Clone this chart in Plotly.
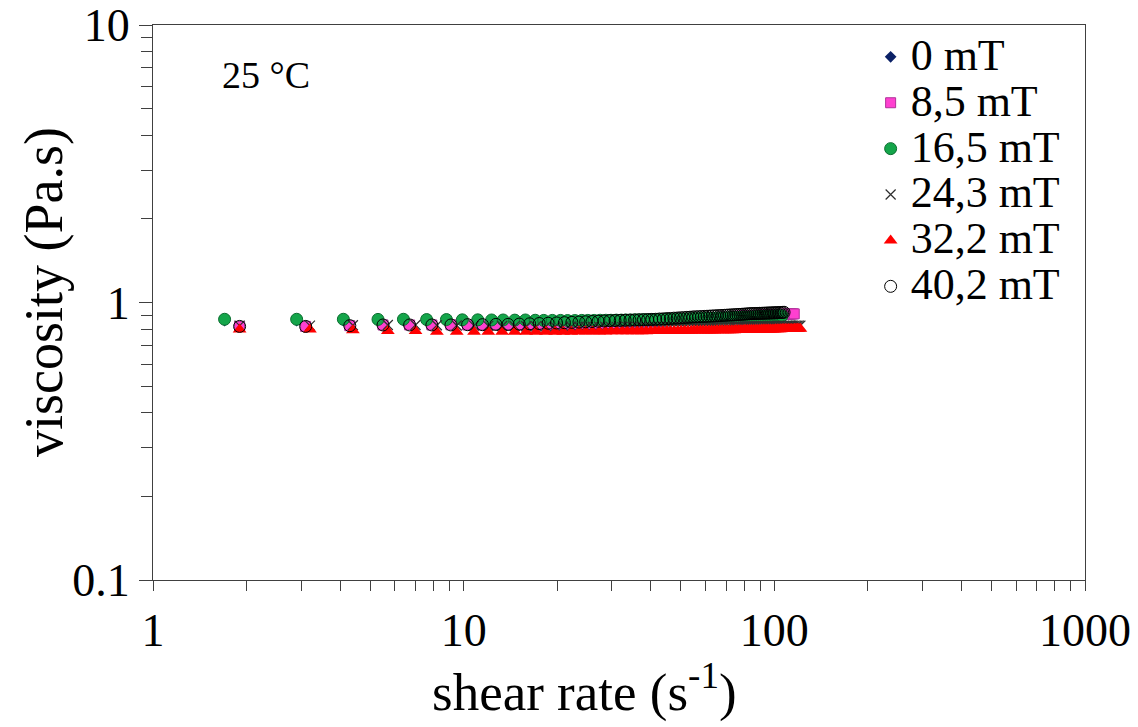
import plotly.graph_objects as go

# shear rate ramps (s-1)
rate_a = [1.7, 2.9, 4.1, 5.3, 6.4, 7.6, 8.8, 9.9, 11.1, 12.3,
          13.4, 14.6, 15.8, 17.0, 18.1, 19.3, 20.5, 21.6, 22.8, 24.0,
          25.1, 26.3, 27.5, 28.7, 29.8, 31.0, 32.2, 33.3, 34.5, 35.7,
          36.8, 38.0, 39.2, 40.4, 41.5, 42.7, 43.9, 45.0, 46.2, 47.4,
          48.5, 49.7, 50.9, 52.1, 53.2, 54.4, 55.6, 56.7, 57.9, 59.1,
          60.2, 61.4, 62.6, 63.8, 64.9, 66.1, 67.3, 68.4, 69.6, 70.8,
          71.9, 73.1, 74.3, 75.5, 76.6, 77.8, 79.0, 80.1, 81.3, 82.5,
          83.6, 84.8, 86.0, 87.2, 88.3, 89.5, 90.7, 91.8, 93.0, 94.2,
          95.3, 96.5, 97.7, 98.9, 100.0, 101.2, 102.4, 103.5, 104.7, 105.9]

rate_b = [1.9, 3.1, 4.3, 5.5, 6.7, 7.9, 9.1, 10.3, 11.5, 12.7,
          13.9, 15.1, 16.3, 17.5, 18.7, 19.9, 21.1, 22.3, 23.5, 24.7,
          25.9, 27.1, 28.3, 29.5, 30.7, 31.9, 33.1, 34.3, 35.5, 36.7,
          37.9, 39.1, 40.3, 41.5, 42.7, 43.9, 45.1, 46.3, 47.5, 48.7,
          49.9, 51.1, 52.3, 53.5, 54.7, 55.9, 57.1, 58.3, 59.5, 60.7,
          61.9, 63.1, 64.3, 65.5, 66.7, 67.9, 69.1, 70.3, 71.5, 72.7,
          73.9, 75.1, 76.3, 77.5, 78.7, 79.9, 81.1, 82.3, 83.5, 84.7,
          85.9, 87.1, 88.3, 89.5, 90.7, 91.9, 93.1, 94.3, 95.5, 96.7,
          97.9, 99.1, 100.3, 101.5, 102.7, 103.9, 105.1, 106.3, 107.5, 108.7,
          109.9, 111.1, 112.3, 113.5, 114.7, 115.9]

rate_c = [1.9, 3.2, 4.4, 5.7, 7.0, 8.2, 9.5, 10.8, 12.0, 13.3,
          14.6, 15.9, 17.1, 18.4, 19.7, 20.9, 22.2, 23.5, 24.7, 26.0,
          27.3, 28.6, 29.8, 31.1, 32.4, 33.6, 34.9, 36.2, 37.4, 38.7,
          40.0, 41.3, 42.5, 43.8, 45.1, 46.3, 47.6, 48.9, 50.1, 51.4,
          52.7, 54.0, 55.2, 56.5, 57.8, 59.0, 60.3, 61.6, 62.8, 64.1,
          65.4, 66.7, 67.9, 69.2, 70.5, 71.7, 73.0, 74.3, 75.5, 76.8,
          78.1, 79.4, 80.6, 81.9, 83.2, 84.4, 85.7, 87.0, 88.2, 89.5,
          90.8, 92.1, 93.3, 94.6, 95.9, 97.1, 98.4, 99.7, 100.9, 102.2,
          103.5, 104.8, 106.0, 107.3, 108.6, 109.8, 111.1, 112.4, 113.6, 114.9,
          116.2, 117.5, 118.7, 120.0, 121.3]

# viscosity (Pa.s)
visc_0 = [0.86, 0.86, 0.86, 0.862, 0.86, 0.861, 0.86, 0.86, 0.859, 0.86,
          0.86, 0.858, 0.858, 0.857, 0.857, 0.857, 0.858, 0.858, 0.858, 0.859,
          0.859, 0.86, 0.86, 0.861, 0.861, 0.862, 0.862, 0.863, 0.863, 0.864,
          0.864, 0.865, 0.865, 0.866, 0.866, 0.867, 0.867, 0.868, 0.868, 0.869,
          0.869, 0.87, 0.87, 0.871, 0.871, 0.872, 0.872, 0.873, 0.873, 0.874,
          0.874, 0.875, 0.875, 0.876, 0.876, 0.877, 0.877, 0.878, 0.878, 0.879,
          0.879, 0.88, 0.88, 0.881, 0.881, 0.882, 0.882, 0.883, 0.883, 0.884,
          0.884, 0.885, 0.885, 0.886, 0.886, 0.887, 0.887, 0.888, 0.888, 0.889,
          0.889, 0.89, 0.89, 0.891, 0.891, 0.892, 0.892, 0.893, 0.893, 0.894]

visc_8_5 = [0.82, 0.82, 0.825, 0.83, 0.83, 0.83, 0.831, 0.83, 0.83, 0.831,
            0.83, 0.83, 0.831, 0.83, 0.831, 0.832, 0.832, 0.834, 0.834, 0.836,
            0.836, 0.838, 0.838, 0.84, 0.84, 0.842, 0.843, 0.845, 0.846, 0.848,
            0.85, 0.851, 0.853, 0.854, 0.856, 0.857, 0.859, 0.86, 0.862, 0.863,
            0.865, 0.866, 0.868, 0.869, 0.871, 0.872, 0.874, 0.875, 0.877, 0.878,
            0.879, 0.88, 0.882, 0.883, 0.884, 0.885, 0.886, 0.887, 0.888, 0.889,
            0.89, 0.891, 0.892, 0.893, 0.894, 0.895, 0.896, 0.896, 0.897, 0.897,
            0.898, 0.898, 0.899, 0.899, 0.9, 0.9, 0.901, 0.901, 0.902, 0.902,
            0.903, 0.903, 0.904, 0.904, 0.905, 0.905, 0.906, 0.906, 0.907, 0.907,
            0.908, 0.908, 0.909, 0.909, 0.91, 0.91]

visc_16_5 = [0.87, 0.87, 0.87, 0.869, 0.87, 0.868, 0.868, 0.866, 0.866, 0.865,
             0.865, 0.864, 0.865, 0.863, 0.862, 0.862, 0.862, 0.861, 0.861, 0.862,
             0.862, 0.862, 0.863, 0.863, 0.863, 0.864, 0.864, 0.865, 0.865, 0.866,
             0.866, 0.867, 0.867, 0.868, 0.868, 0.869, 0.869, 0.87, 0.87, 0.871,
             0.871, 0.872, 0.872, 0.873, 0.873, 0.874, 0.874, 0.875, 0.875, 0.876,
             0.876, 0.877, 0.877, 0.878, 0.878, 0.879, 0.879, 0.88, 0.88, 0.881,
             0.881, 0.882, 0.882, 0.883, 0.883, 0.884, 0.884, 0.885, 0.885, 0.886,
             0.886, 0.887, 0.887, 0.888, 0.888, 0.889, 0.889, 0.89, 0.89, 0.891,
             0.891, 0.892, 0.892, 0.893, 0.893, 0.894, 0.894, 0.895, 0.895, 0.896]

visc_24_3 = [0.825, 0.825, 0.828, 0.83, 0.83, 0.828, 0.826, 0.825, 0.824, 0.823,
             0.822, 0.821, 0.82, 0.82, 0.819, 0.819, 0.818, 0.818, 0.818, 0.817,
             0.817, 0.817, 0.817, 0.817, 0.816, 0.816, 0.816, 0.816, 0.816, 0.816,
             0.816, 0.816, 0.816, 0.816, 0.816, 0.817, 0.817, 0.817, 0.817, 0.817,
             0.817, 0.817, 0.818, 0.818, 0.818, 0.818, 0.818, 0.818, 0.818, 0.819,
             0.819, 0.819, 0.819, 0.819, 0.819, 0.82, 0.82, 0.82, 0.82, 0.82,
             0.82, 0.82, 0.821, 0.821, 0.821, 0.821, 0.821, 0.821, 0.822, 0.822,
             0.822, 0.822, 0.822, 0.822, 0.823, 0.823, 0.823, 0.823, 0.823, 0.823,
             0.824, 0.824, 0.824, 0.824, 0.824, 0.824, 0.825, 0.825, 0.825, 0.825,
             0.825, 0.825, 0.825, 0.825, 0.825]

visc_32_2 = [0.80, 0.80, 0.795, 0.79, 0.79, 0.785, 0.785, 0.785, 0.784, 0.785,
             0.784, 0.784, 0.785, 0.784, 0.785, 0.785, 0.785, 0.786, 0.786, 0.786,
             0.786, 0.786, 0.787, 0.787, 0.787, 0.787, 0.788, 0.788, 0.788, 0.788,
             0.789, 0.789, 0.789, 0.789, 0.79, 0.79, 0.79, 0.79, 0.791, 0.791,
             0.791, 0.791, 0.792, 0.792, 0.792, 0.792, 0.793, 0.793, 0.793, 0.793,
             0.794, 0.794, 0.794, 0.794, 0.795, 0.795, 0.795, 0.795, 0.796, 0.796,
             0.796, 0.796, 0.797, 0.797, 0.797, 0.797, 0.798, 0.798, 0.798, 0.798,
             0.799, 0.799, 0.799, 0.799, 0.8, 0.8, 0.8, 0.8, 0.801, 0.801,
             0.801, 0.801, 0.802, 0.802, 0.802, 0.802, 0.803, 0.803, 0.803, 0.803,
             0.804, 0.804, 0.804, 0.805, 0.805]

visc_40_2 = [0.82, 0.82, 0.825, 0.83, 0.83, 0.83, 0.83, 0.832, 0.832, 0.834,
             0.834, 0.836, 0.838, 0.84, 0.842, 0.844, 0.846, 0.848, 0.85, 0.852,
             0.854, 0.856, 0.858, 0.86, 0.861, 0.862, 0.863, 0.864, 0.865, 0.866,
             0.867, 0.868, 0.869, 0.87, 0.872, 0.873, 0.875, 0.876, 0.878, 0.879,
             0.881, 0.882, 0.884, 0.885, 0.887, 0.888, 0.889, 0.89, 0.891, 0.892,
             0.893, 0.894, 0.895, 0.896, 0.897, 0.898, 0.899, 0.9, 0.901, 0.902,
             0.903, 0.904, 0.905, 0.906, 0.907, 0.908, 0.909, 0.91, 0.911, 0.912,
             0.912, 0.913, 0.913, 0.914, 0.914, 0.915, 0.915, 0.916, 0.916, 0.917,
             0.917, 0.918, 0.918, 0.919, 0.919, 0.92, 0.92, 0.921, 0.922]

x_ticks = [1, 10, 100, 1000]
y_ticks = [0.1, 1, 10]

series = [
    ("0 mT", rate_a, visc_0, dict(symbol="diamond", size=9, color="#0b2166")),
    ("8,5 mT", rate_b, visc_8_5, dict(symbol="square", size=10, color="#ff40d0",
                                      line=dict(color="#b0309a", width=1))),
    ("16,5 mT", rate_a, visc_16_5, dict(symbol="circle", size=12, color="#14a54a",
                                        line=dict(color="#0b6e30", width=1))),
    ("24,3 mT", rate_c, visc_24_3, dict(symbol="x-thin", size=10,
                                        line=dict(color="#303030", width=1.2))),
    ("32,2 mT", rate_c, visc_32_2, dict(symbol="triangle-up", size=12, color="#ff0000")),
    ("40,2 mT", rate_b[:len(visc_40_2)], visc_40_2,
     dict(symbol="circle-open", size=12, color="#000000", line=dict(width=1))),
]

fig = go.Figure()
for name, xs, ys, mk in series:
    # legend rows are spaced by the legend font size, the label itself is drawn bigger
    fig.add_trace(go.Scatter(x=xs, y=ys, mode="markers", marker=mk,
                             name='<span style="font-size:44px">%s</span>' % name))

serif = "Liberation Serif, Times New Roman, serif"
minor_x = [2, 3, 4, 5, 6, 7, 8, 9, 20, 30, 40, 50, 60, 70, 80, 90,
           200, 300, 400, 500, 600, 700, 800, 900]
minor_y = [0.2, 0.3, 0.4, 0.5, 0.6, 0.7, 0.8, 0.9, 2, 3, 4, 5, 6, 7, 8, 9]

fig.update_layout(
    width=1138, height=727,
    margin=dict(l=153, r=53, t=25, b=147),
    paper_bgcolor="white", plot_bgcolor="white",
    font=dict(family=serif, color="black"),
    showlegend=True,
    legend=dict(x=0.77, y=0.993, xanchor="left", yanchor="top",
                font=dict(size=33, family=serif), bgcolor="rgba(0,0,0,0)",
                itemwidth=30, tracegroupgap=0),
    annotations=[
        dict(text="25 °C", x=0.072, y=0.91, xref="paper", yref="paper",
             xanchor="left", yanchor="middle",
             showarrow=False, font=dict(size=38, family=serif)),
        dict(text="shear rate (s<sup>-1</sup>)", x=0.4635, y=-0.196,
             xref="paper", yref="paper", xanchor="center", yanchor="middle",
             showarrow=False, font=dict(size=53, family=serif)),
        dict(text="viscosity (Pa.s)", x=-0.117, y=0.519, textangle=-90,
             xref="paper", yref="paper", xanchor="center", yanchor="middle",
             showarrow=False, font=dict(size=54, family=serif)),
    ],
)

fig.update_xaxes(
    type="log", range=[0, 3], automargin=False, ticklabeloverflow="allow",
    tickvals=x_ticks, ticktext=[str(v) for v in x_ticks],
    ticks="outside", ticklen=10, tickcolor="#404040", tickwidth=1,
    minor=dict(tickvals=minor_x, ticks="outside", ticklen=10, tickcolor="#404040", showgrid=False),
    showline=True, linecolor="#404040", linewidth=1, mirror=True,
    showgrid=False, zeroline=False,
    tickfont=dict(size=46, family=serif),
)
fig.update_yaxes(
    type="log", range=[-1, 1], automargin=False, ticklabeloverflow="allow",
    tickvals=y_ticks, ticktext=["0.1", "1", "10"],
    ticks="outside", ticklen=13, tickcolor="#404040", tickwidth=1,
    minor=dict(tickvals=minor_y, ticks="outside", ticklen=11, tickcolor="#404040", showgrid=False),
    showline=True, linecolor="#404040", linewidth=1, mirror=True,
    showgrid=False, zeroline=False,
    tickfont=dict(size=46, family=serif),
)

# drop the browser's default 8px body margin so the figure fills the window
fig.write_html("out.html", config={"displayModeBar": False},
               post_script="document.body.style.margin = '0px';")
